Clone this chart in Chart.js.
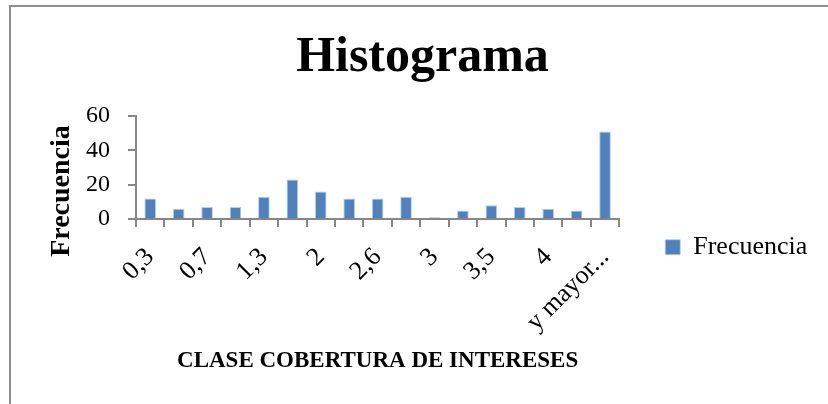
<!DOCTYPE html>
<html>
<head>
<meta charset="utf-8">
<script src="https://cdn.jsdelivr.net/npm/chart.js@4.4.1/dist/chart.umd.min.js"></script>
<style>
  html, body { margin: 0; padding: 0; background: #ffffff; }
  #wrap { position: relative; width: 828px; height: 404px; overflow: hidden; }
  #frame { position: absolute; left: 9px; top: 5px; width: 900px; height: 500px; border: 2px solid #8e8e8e; box-sizing: border-box; }
  #c { position: absolute; left: 0; top: 0; }
</style>
</head>
<body>
<div id="wrap">
  <div id="frame"></div>
  <canvas id="c" width="828" height="404"></canvas>
</div>
<script>
// Class labels (Excel shows every second one)
const categories = ['0,3', '0,5', '0,7', '1', '1,3', '1,6', '2', '2,3', '2,6', '2,8', '3', '3,2', '3,5', '3,7', '4', '4,2', 'y mayor...'];
// Frequencies
const frecuencia = [12, 6, 7, 7, 13, 23, 16, 12, 12, 13, 1, 5, 8, 7, 6, 5, 51];
const yTicks = [0, 20, 40, 60];
const chartTitle = 'Histograma';
const seriesName = 'Frecuencia';
const xTitle = 'CLASE COBERTURA DE INTERESES';
const yTitle = 'Frecuencia';

const SERIF = "'Liberation Serif', 'Times New Roman', serif";
const axisGray = '#868686';

const yTitlePlugin = {
  id: 'yTitle',
  afterDraw(chart) {
    const ctx = chart.ctx;
    ctx.save();
    ctx.font = 'bold 28px ' + SERIF;
    ctx.fillStyle = '#000';
    ctx.textAlign = 'center';
    ctx.textBaseline = 'middle';
    ctx.translate(62, 191);
    ctx.rotate(-Math.PI / 2);
    ctx.fillText(yTitle, 0, 0);
    ctx.restore();
  }
};

new Chart(document.getElementById('c'), {
  type: 'bar',
  data: {
    labels: categories,
    datasets: [{
      label: seriesName,
      data: frecuencia,
      backgroundColor: '#4F81BD',
      borderColor: '#B9CDE5',
      borderWidth: { top: 1, left: 1, right: 1, bottom: 0 },
      categoryPercentage: 1.0,
      barPercentage: 0.41
    }]
  },
  options: {
    responsive: false,
    animation: false,
    devicePixelRatio: 1,
    layout: { padding: { left: 29, right: 12, top: 0, bottom: 0 } },
    plugins: {
      title: {
        display: true,
        text: chartTitle,
        color: '#000',
        font: { family: SERIF, size: 50, weight: 'bold', lineHeight: 1.2 },
        padding: { top: 28, bottom: 28 }
      },
      legend: {
        display: true,
        position: 'right',
        title: { display: true, text: ' ', font: { size: 12, lineHeight: 1.2 }, padding: { top: 38, bottom: 38 } },
        labels: {
          color: '#000',
          font: { family: SERIF, size: 26 },
          boxWidth: 15,
          boxHeight: 15,
          padding: 46
        }
      },
      tooltip: { enabled: false }
    },
    scales: {
      x: {
        afterFit(scale) { scale.height = 185; },
        grid: { display: true, drawOnChartArea: false, drawTicks: true, tickLength: 8, color: axisGray, lineWidth: 2, offset: true },
        border: { display: true, color: axisGray, width: 2 },
        ticks: {
          autoSkip: false,
          minRotation: 45,
          maxRotation: 45,
          padding: 15,
          color: '#000',
          font: { family: SERIF, size: 26 },
          callback(value, index) { return index % 2 === 0 ? categories[index] : ''; }
        },
        title: {
          display: true,
          text: xTitle,
          color: '#000',
          font: { family: SERIF, size: 23, weight: 'bold', lineHeight: 1.2 },
          padding: { top: 0, bottom: 29 }
        }
      },
      y: {
        min: 0,
        max: 60,
        afterFit(scale) { scale.width = 107; },
        afterBuildTicks(scale) { scale.ticks = yTicks.map(v => ({ value: v })); },
        grid: { display: true, drawOnChartArea: false, drawTicks: true, tickLength: 8, color: axisGray, lineWidth: 2 },
        border: { display: true, color: axisGray, width: 2 },
        ticks: {
          padding: 18,
          color: '#000',
          font: { family: SERIF, size: 24 }
        }
      }
    }
  },
  plugins: [yTitlePlugin]
});
</script>
</body>
</html>
